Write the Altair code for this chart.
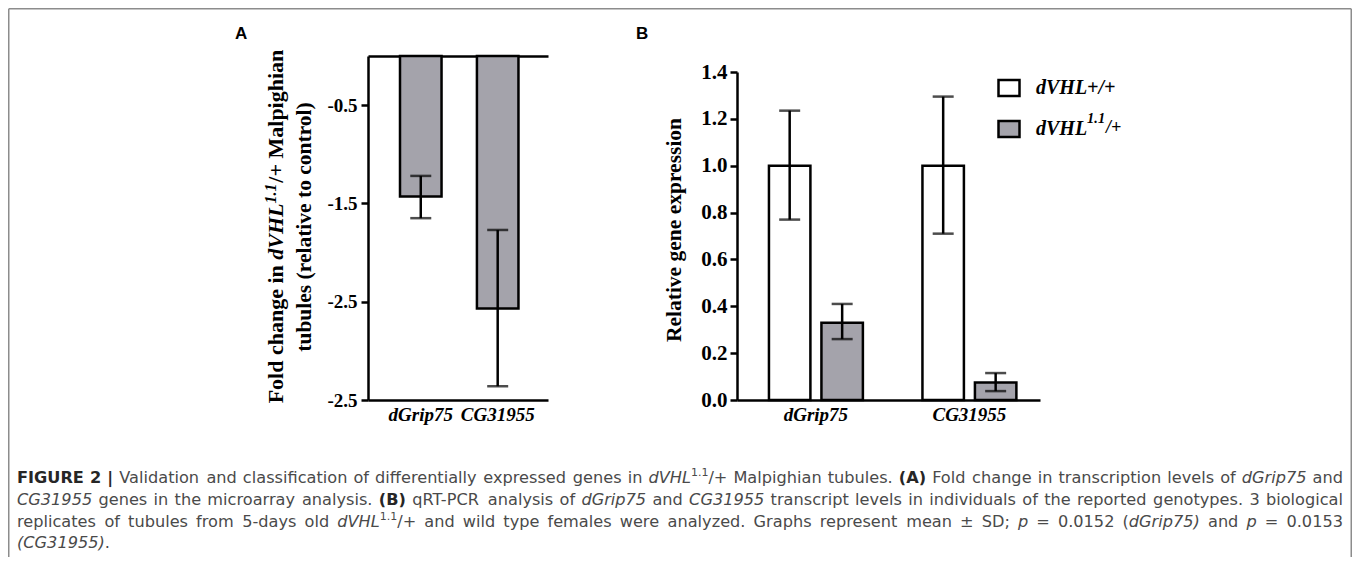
import altair as alt
import pandas as pd

# ---------------- data ----------------
genes = ["dGrip75", "CG31955"]

# Panel A: fold change (microarray)
a_fold = [-1.43, -2.57]
a_hi = [-1.22, -1.77]
a_lo = [-1.65, -3.36]
a_tick_values = [-0.5, -1.5, -2.5, -3.5]
a_tick_labels = ["-0.5", "-1.5", "-2.5", "-2.5"]

# Panel B: qRT-PCR relative expression
genotypes = ["dVHL+/+", "dVHL1.1/+"]
legend_stems = ["dVHL+/+", "dVHL"]
legend_sup = "1.1"
legend_tail = "/+"
b_wt = [1.0, 1.0]
b_wt_hi = [1.235, 1.295]
b_wt_lo = [0.77, 0.71]
b_mut = [0.33, 0.075]
b_mut_hi = [0.41, 0.115]
b_mut_lo = [0.26, 0.038]
b_tick_values = [0.0, 0.2, 0.4, 0.6, 0.8, 1.0, 1.2, 1.4]

# texts
a_title_line1 = [("Fold change in ", "tb"), ("dVHL", "tbi"), ("1.1", "tbs"), ("/+ Malpighian", "tb")]
a_title_line2 = "tubules (relative to control)"
b_title = "Relative gene expression"
caption_lines = [
    [("FIGURE 2 |", "b"), (" Validation and classification of differentially expressed genes in ", "r"),
     ("dVHL", "i"), ("1.1", "s"), ("/+ Malpighian tubules. ", "r"), ("(A)", "b"),
     (" Fold change in transcription levels of ", "r"), ("dGrip75", "i"), (" and", "r")],
    [("CG31955", "i"), (" genes in the microarray analysis. ", "r"), ("(B)", "b"),
     (" qRT-PCR analysis of ", "r"), ("dGrip75", "i"), (" and ", "r"), ("CG31955", "i"),
     (" transcript levels in individuals of the reported genotypes. 3 biological", "r")],
    [("replicates of tubules from 5-days old ", "r"), ("dVHL", "i"), ("1.1", "s"),
     ("/+ and wild type females were analyzed. Graphs represent mean \u00b1 SD; ", "r"),
     ("p", "i"), (" = 0.0152 (", "r"), ("dGrip75)", "i"), (" and ", "r"), ("p", "i"), (" = 0.0153", "r")],
    [("(CG31955)", "i"), (".", "r")],
]

# ---------------- styling / layout ----------------
SERIF = "Liberation Serif"
SANS = "Liberation Sans"
CAPFONT = "DejaVu Sans"
GRAY = "#a4a3ab"
W, H = 1344, 549

# DejaVu Sans advance widths (units of 2048) for caption layout
_DJ = {" ": 651, "!": 821, "'": 563, "(": 799, ")": 799, "+": 1716, ",": 651, "-": 739, ".": 651, "/": 690,
       ":": 690, ";": 690, "=": 1716, "?": 1087, "|": 690, "\u00b1": 1716,
       "A": 1401, "B": 1405, "C": 1430, "D": 1577, "E": 1294, "F": 1178, "G": 1587, "H": 1540, "I": 604,
       "J": 604, "K": 1343, "L": 1141, "M": 1767, "N": 1532, "O": 1612, "P": 1235, "Q": 1612, "R": 1423,
       "S": 1300, "T": 1251, "U": 1499, "V": 1401, "W": 2025, "X": 1403, "Y": 1251, "Z": 1403,
       "a": 1255, "b": 1300, "c": 1126, "d": 1300, "e": 1260, "f": 721, "g": 1300, "h": 1298, "i": 569,
       "j": 569, "k": 1186, "l": 569, "m": 1995, "n": 1298, "o": 1253, "p": 1300, "q": 1300, "r": 842,
       "s": 1067, "t": 803, "u": 1298, "v": 1212, "w": 1675, "x": 1212, "y": 1212, "z": 1075}
_DJ.update({d: 1303 for d in "0123456789"})
DJ = {k: v * 1000.0 / 2048 for k, v in _DJ.items()}
_DJB = {" ": 713, "(": 934, ")": 934, "|": 752, "2": 1425, "A": 1585, "B": 1561, "E": 1399, "F": 1399,
        "G": 1683, "I": 762, "R": 1579, "U": 1665}
DJB = dict(DJ)
DJB.update({k: v * 1000.0 / 2048 for k, v in _DJB.items()})

# Times-compatible widths (Liberation Serif bold / bold italic)
TB = {" ": 250, "(": 333, ")": 333, "+": 570, "/": 278, ".": 250, "-": 333, "M": 944, "F": 611, "R": 722,
      "a": 500, "b": 556, "c": 444, "d": 556, "e": 444, "g": 500, "h": 556, "i": 278, "l": 278, "n": 556,
      "o": 500, "p": 556, "r": 444, "s": 389, "t": 333, "u": 556, "v": 500, "x": 500}
TBI = {"d": 500, "V": 667, "H": 778, "L": 611, ".": 250, "1": 500, "/": 278, "+": 570}


def tw(text, table, size):
    return sum(table.get(c, 550) for c in text) * size / 1000.0


rows = []

# --- panel A y-title (rotated, rich text) ---
FA = 22
SUPK = 0.72
a_tables = {"tb": (TB, FA), "tbi": (TBI, FA), "tbs": (TBI, FA * SUPK)}
L1 = sum(tw(t, a_tables[k][0], a_tables[k][1]) for t, k in a_title_line1)
yc_a = 219
cur = yc_a + L1 / 2
for t, k in a_title_line1:
    tab, sz = a_tables[k]
    xx = 275 - (0.3 * FA if k == "tbs" else 0)
    rows.append({"text": t, "x": xx, "y": cur, "kind": k})
    cur -= tw(t, tab, sz) + (1 if k == "tbs" else 0)
rows.append({"text": a_title_line2, "x": 303, "y": yc_a, "kind": "tbc"})
rows.append({"text": b_title, "x": 673, "y": 222, "kind": "tbc"})

# --- panel letters ---
rows.append({"text": "A", "x": 227, "y": 31, "kind": "letter"})
rows.append({"text": "B", "x": 628, "y": 31, "kind": "letter"})

# --- legend label tail for the mutant genotype (superscript) ---
LEGF = 20
LEGSUP = 0.72
LEG_X = 989
LEG_Y = 68
LEG_ROWPAD = 15
lab_x = 1027
row2_y = 119
sx = lab_x + tw(legend_stems[1], TBI, LEGF) + 1
rows.append({"text": legend_sup, "x": sx, "y": row2_y - 8, "kind": "legsup"})
rows.append({"text": legend_tail, "x": sx + tw(legend_sup, TBI, LEGF * LEGSUP) + 1, "y": row2_y + 1, "kind": "legtail"})

# --- caption, justified ---
CAP_X0, CAP_W = 9, 1326
cap_base = [475, 497, 519, 540]


def cap_table(k):
    return DJB if k == "b" else DJ


def cap_atoms(line):
    atoms = []
    for text, k in line:
        parts = text.split(" ")
        for i, p in enumerate(parts):
            if i > 0:
                atoms.append((" ", "space"))
            if p:
                atoms.append((p, k))
    return atoms


def atom_w(a, fs):
    t, k = a
    if k == "space":
        return tw(" ", DJ, fs)
    if k == "s":
        return tw(t, DJ, fs * 0.68)
    return tw(t, cap_table(k), fs)


nat1 = max(sum(atom_w(a, 1.0) for a in cap_atoms(l)) for l in caption_lines)
FC = min(16.5, 0.985 * CAP_W / nat1)
for li, line in enumerate(caption_lines):
    atoms = cap_atoms(line)
    nat = sum(atom_w(a, FC) for a in atoms)
    nsp = sum(1 for a in atoms if a[1] == "space")
    extra = (CAP_W - nat) / nsp if (li < 3 and nsp) else 0
    x = CAP_X0
    for a in atoms:
        wv = atom_w(a, FC)
        if a[1] == "space":
            x += wv + extra
            continue
        yy = cap_base[li] - (0.42 * FC if a[1] == "s" else 0)
        rows.append({"text": a[0], "x": x, "y": yy, "kind": "cap_" + a[1]})
        x += wv

texts = pd.DataFrame(rows)

# ---------------- tables ----------------
dfA = pd.DataFrame({"gene": genes, "fc": a_fold, "hi": a_hi, "lo": a_lo})
dfB = pd.DataFrame({
    "gene": genes * 2,
    "genotype": [genotypes[0]] * 2 + [genotypes[1]] * 2,
    "val": b_wt + b_mut,
    "hi": b_wt_hi + b_mut_hi,
    "lo": b_wt_lo + b_mut_lo,
})

# ---------------- panel A ----------------
xA_scale = alt.Scale(domain=genes, range=[360, 540], paddingInner=0.46, paddingOuter=0.4, align=0.52)
yA_scale = alt.Scale(domain=[-3.5, 0], range=[392, 48], nice=False, zero=False)
labA = "[" + ",".join("'%s'" % s for s in a_tick_labels) + "][indexof([" + ",".join(str(v) for v in a_tick_values) + "], datum.value)]"

axA_bottom = alt.Axis(orient="bottom", offset=-(H - 392), title=None, ticks=False, domainColor="black",
                      domainWidth=2.5, labelFont=SERIF, labelFontSize=19, labelFontStyle="italic",
                      labelFontWeight="bold", labelColor="black", labelPadding=5, labelAngle=0, grid=False)
axA_top = alt.Axis(orient="top", offset=-48, title=None, ticks=False, labels=False, domainColor="black",
                   domainWidth=2.5, grid=False)
axA_left = alt.Axis(orient="left", offset=-360, title=None, values=a_tick_values, labelExpr=labA,
                    tickSize=7, tickWidth=2.5, tickColor="black", domainColor="black", domainWidth=2.5,
                    labelFont=SERIF, labelFontSize=19, labelFontWeight="bold", labelColor="black",
                    labelPadding=4, labelFlush=False, grid=False)

barsA = alt.Chart(dfA).mark_bar(fill=GRAY, stroke="black", strokeWidth=2.5).encode(
    x=alt.X("gene:N", scale=xA_scale, axis=axA_bottom, sort=genes),
    y=alt.Y("fc:Q", scale=yA_scale, axis=axA_left),
    y2=alt.datum(0),
)
ruleA = alt.Chart(dfA).mark_rule(color="black", strokeWidth=2.5).encode(
    x=alt.X("gene:N", scale=xA_scale, axis=axA_top, sort=genes),
    y=alt.Y("lo:Q", scale=yA_scale, axis=None),
    y2="hi:Q",
)
capA_hi = alt.Chart(dfA).mark_tick(color="black", size=21, thickness=2.5, orient="horizontal").encode(
    x=alt.X("gene:N", scale=xA_scale, axis=None, sort=genes),
    y=alt.Y("hi:Q", scale=yA_scale, axis=None),
)
capA_lo = alt.Chart(dfA).mark_tick(color="black", size=21, thickness=2.5, orient="horizontal").encode(
    x=alt.X("gene:N", scale=xA_scale, axis=None, sort=genes),
    y=alt.Y("lo:Q", scale=yA_scale, axis=None),
)

# ---------------- panel B ----------------
xB_scale = alt.Scale(domain=genes, range=[729, 1032], paddingInner=0.388, paddingOuter=0.181, align=0.575)
xoB_scale = alt.Scale(domain=genotypes, paddingInner=0.21, paddingOuter=0)
yB_scale = alt.Scale(domain=[0, 1.4], range=[392, 64], nice=False, zero=False)

axB_bottom = alt.Axis(orient="bottom", offset=-(H - 392), title=None, ticks=False, domainColor="black",
                      domainWidth=2.5, labelFont=SERIF, labelFontSize=19, labelFontStyle="italic",
                      labelFontWeight="bold", labelColor="black", labelPadding=5, labelAngle=0, grid=False)
axB_left = alt.Axis(orient="left", offset=-729, title=None, values=b_tick_values, format=".1f",
                    tickSize=7, tickWidth=2.5, tickColor="black", domainColor="black", domainWidth=2.5,
                    labelFont=SERIF, labelFontSize=21, labelFontWeight="bold", labelColor="black",
                    labelPadding=3, labelFlush=False, grid=False)

legB_expr = "datum.label == '%s' ? '%s' : '%s'" % (genotypes[0], legend_stems[0], legend_stems[1])
legB = alt.Legend(orient="none", legendX=LEG_X, legendY=LEG_Y, title=None, padding=0,
                  symbolType="M -1 -0.76 L 1 -0.76 L 1 0.76 L -1 0.76 Z", symbolSize=441,
                  symbolStrokeColor="black", symbolStrokeWidth=2.5, symbolOpacity=1,
                  labelFont=SERIF, labelFontSize=LEGF, labelFontStyle="italic", labelFontWeight="bold",
                  labelColor="black", labelOffset=15, rowPadding=LEG_ROWPAD, labelLimit=300,
                  labelExpr=legB_expr)

barsB = alt.Chart(dfB).mark_bar(stroke="black", strokeWidth=2.5, opacity=1).encode(
    x=alt.X("gene:N", scale=xB_scale, axis=axB_bottom, sort=genes),
    xOffset=alt.XOffset("genotype:N", scale=xoB_scale, sort=genotypes),
    y=alt.Y("val:Q", scale=yB_scale, axis=axB_left),
    fill=alt.Fill("genotype:N", scale=alt.Scale(domain=genotypes, range=["white", GRAY]), legend=legB),
)
ruleB = alt.Chart(dfB).mark_rule(color="black", strokeWidth=2.5).encode(
    x=alt.X("gene:N", scale=xB_scale, axis=None, sort=genes),
    xOffset=alt.XOffset("genotype:N", scale=xoB_scale, sort=genotypes),
    y=alt.Y("lo:Q", scale=yB_scale, axis=None),
    y2="hi:Q",
)
capB_hi = alt.Chart(dfB).mark_tick(color="black", size=21, thickness=2.5, orient="horizontal").encode(
    x=alt.X("gene:N", scale=xB_scale, axis=None, sort=genes),
    xOffset=alt.XOffset("genotype:N", scale=xoB_scale, sort=genotypes),
    y=alt.Y("hi:Q", scale=yB_scale, axis=None),
)
capB_lo = alt.Chart(dfB).mark_tick(color="black", size=21, thickness=2.5, orient="horizontal").encode(
    x=alt.X("gene:N", scale=xB_scale, axis=None, sort=genes),
    xOffset=alt.XOffset("genotype:N", scale=xoB_scale, sort=genotypes),
    y=alt.Y("lo:Q", scale=yB_scale, axis=None),
)


# ---------------- text layers ----------------
def text_layer(kind, **kw):
    return alt.Chart(texts).transform_filter(alt.datum.kind == kind).mark_text(**kw).encode(
        x=alt.X("x:Q", scale=None, axis=None),
        y=alt.Y("y:Q", scale=None, axis=None),
        text="text:N",
    )


CAPCOL = "#4a4a4a"
t_layers = [
    text_layer("tb", font=SERIF, fontSize=FA, fontWeight="bold", angle=270, align="left", baseline="alphabetic", color="black"),
    text_layer("tbi", font=SERIF, fontSize=FA, fontWeight="bold", fontStyle="italic", angle=270, align="left", baseline="alphabetic", color="black"),
    text_layer("tbs", font=SERIF, fontSize=FA * SUPK, fontWeight="bold", fontStyle="italic", angle=270, align="left", baseline="alphabetic", color="black"),
    text_layer("tbc", font=SERIF, fontSize=21.5, fontWeight="bold", angle=270, align="center", baseline="alphabetic", color="black"),
    text_layer("letter", font=SANS, fontSize=17, fontWeight="bold", align="left", baseline="alphabetic", color="black"),
    text_layer("legsup", font=SERIF, fontSize=LEGF * LEGSUP, fontWeight="bold", fontStyle="italic", align="left", baseline="middle", color="black"),
    text_layer("legtail", font=SERIF, fontSize=LEGF * 0.9, fontWeight="bold", fontStyle="italic", align="left", baseline="middle", color="black"),
    text_layer("cap_r", font=CAPFONT, fontSize=FC, align="left", baseline="alphabetic", color=CAPCOL),
    text_layer("cap_i", font=CAPFONT, fontSize=FC, fontStyle="italic", align="left", baseline="alphabetic", color=CAPCOL),
    text_layer("cap_b", font=CAPFONT, fontSize=FC, fontWeight="bold", align="left", baseline="alphabetic", color="#262626"),
    text_layer("cap_s", font=CAPFONT, fontSize=FC * 0.68, align="left", baseline="alphabetic", color=CAPCOL),
]

# frame (open at the bottom, as in the cropped figure)
frame = pd.DataFrame({"x": [0.75, 0.75, W - 0.75], "y": [0.75, 0.75, 0.75],
                      "x2": [0.75, W - 0.75, W - 0.75], "y2": [H, 0.75, H]})
frame_layer = alt.Chart(frame).mark_rule(color="#8c8c8c", strokeWidth=1.5).encode(
    x=alt.X("x:Q", scale=None, axis=None), x2="x2:Q",
    y=alt.Y("y:Q", scale=None, axis=None), y2="y2:Q",
)

chart = alt.layer(
    frame_layer, barsA, ruleA, capA_hi, capA_lo, barsB, ruleB, capB_hi, capB_lo, *t_layers
).resolve_scale(
    x="independent", y="independent", fill="independent", xOffset="independent"
).properties(
    width=W, height=H, autosize=alt.AutoSizeParams(type="none"), padding=0, background="white"
).configure_view(stroke=None)

chart.save("out.html", embed_options={"renderer": "svg", "actions": False})
